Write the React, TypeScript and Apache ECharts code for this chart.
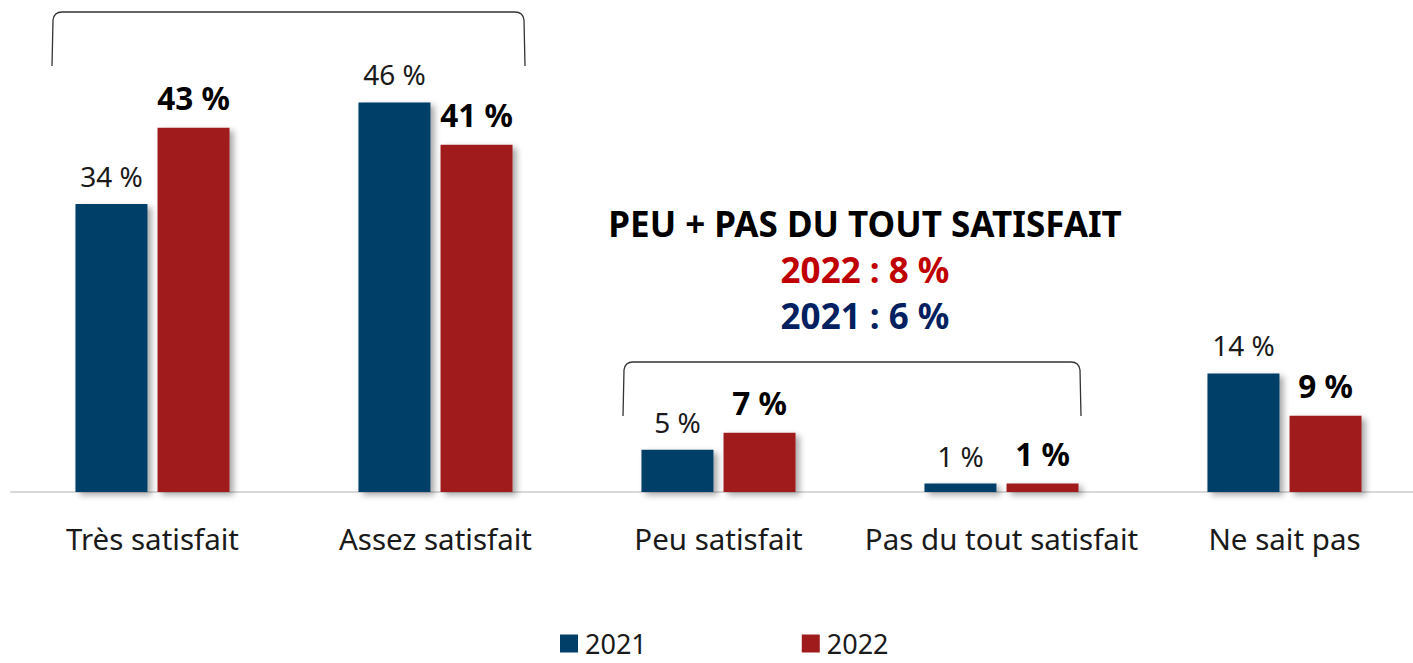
import React, { useEffect, useRef } from "react";
import * as echarts from "echarts";

const categories = ["Très satisfait", "Assez satisfait", "Peu satisfait", "Pas du tout satisfait", "Ne sait pas"];
const values2021 = [34, 46, 5, 1, 14];
const values2022 = [43, 41, 7, 1, 9];
const seriesNames = ["2021", "2022"];
const titleLines = ["PEU + PAS DU TOUT SATISFAIT", "2022 : 8 %", "2021 : 6 %"];

const BLUE = "#023f68";
const RED = "#a01c1c";
const FONT = "'Noto Sans', 'Open Sans', sans-serif";

echarts.graphic.registerShape(
  "bracketTop",
  echarts.graphic.extendPath("M52,66 L53,20 Q54,12 62,12 L515,12 Q523,12 524,20 L525,66", {})
);
echarts.graphic.registerShape(
  "bracketMid",
  echarts.graphic.extendPath("M623,416 L624,370 Q625,362 633,362 L1071,362 Q1079,362 1080,370 L1081,416", {})
);

export default function App() {
  const ref = useRef<HTMLDivElement>(null);
  useEffect(() => {
    if (!ref.current) return;
    const chart = echarts.init(ref.current, undefined, { renderer: "svg" });
    const shadow = {
      shadowColor: "rgba(0,0,0,0.35)",
      shadowBlur: 6,
      shadowOffsetX: 4,
      shadowOffsetY: 3,
    };
    const titleText = (text: string, y: number, fill: string) => ({
      type: "text",
      x: 865,
      y,
      style: {
        text,
        fill,
        font: `bold 35px ${FONT}`,
        textAlign: "center",
        textVerticalAlign: "middle",
      },
    });
    chart.setOption({
      animation: false,
      textStyle: { fontFamily: FONT },
      grid: {
        left: 11,
        top: 68.5,
        width: 1415,
        height: 423.5,
        containLabel: false,
        outerBoundsMode: "none",
      },
      legend: {
        top: 630,
        left: 560,
        padding: 0,
        itemWidth: 18,
        itemHeight: 18,
        itemGap: 155,
        icon: "rect",
        textStyle: { fontSize: 27, color: "#1a1a1a", fontFamily: FONT, padding: [0, 0, 0, 2] },
        data: seriesNames,
      },
      xAxis: {
        type: "category",
        data: categories,
        axisLine: { show: true, lineStyle: { color: "#d9d9d9", width: 2 } },
        axisTick: { show: false },
        axisLabel: { interval: 0, fontSize: 29.5, color: "#1a1a1a", margin: 31, fontFamily: FONT },
      },
      yAxis: {
        type: "value",
        min: 0,
        max: 50,
        show: false,
        splitLine: { show: false },
      },
      series: [
        {
          name: seriesNames[0],
          type: "bar",
          data: values2021,
          barWidth: 72,
          barGap: "14%",
          itemStyle: { color: BLUE, ...shadow },
          label: {
            show: true,
            position: "top",
            distance: 14,
            formatter: "{c} %",
            fontSize: 28,
            color: "#1a1a1a",
            fontFamily: FONT,
          },
        },
        {
          name: seriesNames[1],
          type: "bar",
          data: values2022,
          barWidth: 72,
          barGap: "14%",
          itemStyle: { color: RED, ...shadow },
          label: {
            show: true,
            position: "top",
            distance: 14,
            formatter: "{c} %",
            fontSize: 31.5,
            fontWeight: "bold",
            color: "#000000",
            fontFamily: FONT,
          },
        },
      ],
      graphic: [
        {
          type: "bracketTop",
          x: 0,
          y: 0,
          style: { stroke: "#333333", fill: "none", lineWidth: 1.3 },
        },
        {
          type: "bracketMid",
          x: 0,
          y: 0,
          style: { stroke: "#333333", fill: "none", lineWidth: 1.3 },
        },
        titleText(titleLines[0], 223, "#000000"),
        titleText(titleLines[1], 269, "#c00000"),
        titleText(titleLines[2], 315, "#002060"),
      ],
    });
    return () => chart.dispose();
  }, []);
  return <div ref={ref} style={{ width: 1413, height: 663, position: "absolute", left: 0, top: 0 }} />;
}
